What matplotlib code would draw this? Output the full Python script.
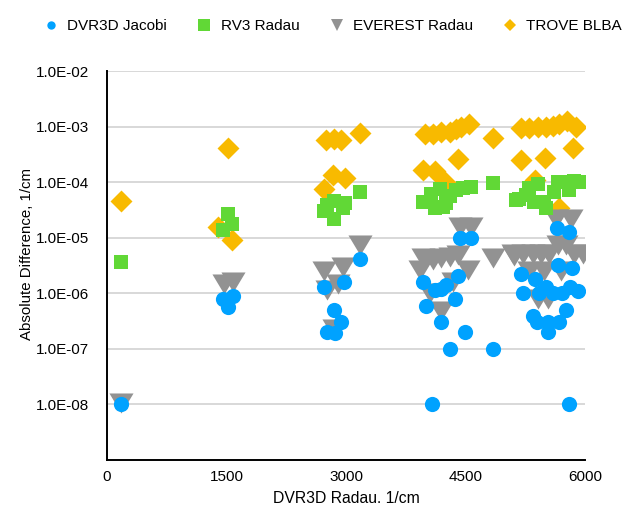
import matplotlib
matplotlib.use('Agg')
import matplotlib.pyplot as plt
from matplotlib.lines import Line2D
from matplotlib.ticker import FixedLocator, FuncFormatter

plt.rcParams['font.family'] = ['Liberation Sans', 'DejaVu Sans']

# DVR3D Jacobi (blue circles)
dvr_x = [175, 1457, 1574, 1512,
         2722, 2973, 3178, 2847, 2939, 2764, 2856,
         4423, 4568, 3963, 4109, 4193, 4255, 4400, 4371, 3996, 4184, 4485, 4297, 4847, 4074,
         5641, 5799, 5194, 5374, 5653, 5834, 5215, 5415, 5507, 5590, 5711, 5812, 5903,
         5340, 5390, 5528, 5665, 5528, 5757, 5799]
dvr_y = [1e-8, 8e-7, 9e-7, 5.7e-7,
         1.3e-6, 1.6e-6, 4.2e-6, 5e-7, 3e-7, 2e-7, 1.9e-7,
         9.8e-6, 1e-5, 1.6e-6, 1.15e-6, 1.2e-6, 1.4e-6, 2.1e-6, 8e-7, 6e-7, 3e-7, 2e-7, 1e-7, 1e-7, 1e-8,
         1.5e-5, 1.3e-5, 2.2e-6, 1.8e-6, 3.3e-6, 2.9e-6, 1e-6, 1e-6, 1.3e-6, 1e-6, 1e-6, 1.3e-6, 1.1e-6,
         4e-7, 3e-7, 3e-7, 3e-7, 2e-7, 5e-7, 1e-8]

# RV3 Radau (green squares)
rv3_x = [175, 1512, 1562, 1457,
         3178, 2847, 2981, 2764, 2722, 2847, 2960,
         4840, 4568, 4464, 4381, 4171, 4067, 3963, 4255, 4109, 4213, 4297,
         5174, 5298, 5402, 5361, 5486, 5507, 5611, 5653, 5757, 5861, 5924, 5799, 5257, 5132]
rv3_y = [3.7e-6, 2.7e-5, 1.8e-5, 1.4e-5,
         6.6e-5, 4.6e-5, 4.2e-5, 3.9e-5, 3e-5, 2.2e-5, 3.5e-5,
         9.7e-5, 8.3e-5, 7.8e-5, 7.2e-5, 7.5e-5, 6.3e-5, 4.5e-5, 4.2e-5, 3.4e-5, 3.6e-5, 5.8e-5,
         5.1e-5, 7.8e-5, 9.5e-5, 4.5e-5, 4.5e-5, 3.5e-5, 6.8e-5, 1.0e-4, 1.0e-4, 1.05e-4, 1.0e-4, 7.2e-5, 5.9e-5, 4.9e-5]

# EVEREST Radau (grey triangles)
ev_x = [175, 1470, 1574,
        3178, 2960, 2722, 2764, 2897, 2847,
        4423, 4568, 4840, 3963, 4089, 4193, 4298, 4400, 4526, 4047, 4193, 4339, 3922,
        5632, 5820, 5090, 5215, 5340, 5444, 5548, 5653, 5757, 5861, 5966, 5402, 5527, 5300, 5480, 5700, 5111]
ev_y = [1.07e-8, 1.5e-6, 1.6e-6,
        7.4e-6, 3e-6, 2.5e-6, 1.15e-6, 1.45e-6, 2.3e-7,
        1.6e-5, 1.6e-5, 4.3e-6, 4.3e-6, 4e-6, 4.3e-6, 4.6e-6, 4.9e-6, 2.6e-6, 1e-6, 4.9e-7, 1.6e-6, 2.6e-6,
        2.2e-5, 2.2e-5, 5.2e-6, 5.2e-6, 5.2e-6, 5.2e-6, 5.2e-6, 7.4e-6, 7.4e-6, 5.2e-6, 5.2e-6, 8e-7, 8e-7, 2.5e-6, 2.5e-6, 2.5e-6, 4.8e-6]

# TROVE BLBA (orange diamonds)
trove_x = [175, 1512, 1390, 1570,
           2750, 2846, 2939, 3178, 2835, 2981, 2722,
           3985, 4089, 4193, 4298, 4381, 4443, 4547, 4840, 4400, 3963, 4109, 4234,
           5194, 5298, 5402, 5507, 5590, 5673, 5777, 5881, 5194, 5499, 5841, 5363, 5673]
trove_y = [4.6e-5, 4.2e-4, 1.6e-5, 9e-6,
           5.9e-4, 6e-4, 5.9e-4, 7.9e-4, 1.38e-4, 1.2e-4, 7.6e-5,
           7.5e-4, 7.5e-4, 8e-4, 8e-4, 9e-4, 1.0e-3, 1.15e-3, 6.3e-4, 2.6e-4, 1.65e-4, 1.58e-4, 1.0e-4,
           9.5e-4, 9.5e-4, 1e-3, 1e-3, 1.05e-3, 1.15e-3, 1.3e-3, 1.0e-3, 2.5e-4, 2.8e-4, 4.1e-4, 1.1e-4, 3.5e-5]

blue = '#00A2FF'
green = '#61D836'
grey = '#929292'
orange = '#F8BA00'
tri = [(-1.2, 1), (1.2, 1), (0, -1)]

fig = plt.figure(figsize=(6.3, 5.08), dpi=100)
ax = fig.add_axes([0.170, 0.0945, 0.759, 0.765])

ax.scatter(trove_x, trove_y, marker='D', s=125, color=orange, linewidths=0, zorder=2)
ax.scatter(ev_x, ev_y, marker=tri, s=300, color=grey, linewidths=0, zorder=3)
ax.scatter(rv3_x, rv3_y, marker='s', s=112, color=green, linewidths=0, zorder=4)
ax.scatter(dvr_x, dvr_y, marker='o', s=120, color=blue, linewidths=0, zorder=5)

ax.set_yscale('log')
ax.set_xlim(0, 6000)
ax.set_ylim(1e-9, 1e-2)
ax.set_xticks([0, 1500, 3000, 4500, 6000])
ax.yaxis.set_major_locator(FixedLocator([1e-8, 1e-7, 1e-6, 1e-5, 1e-4, 1e-3, 1e-2]))
ax.yaxis.set_minor_locator(FixedLocator([]))
ax.yaxis.set_major_formatter(FuncFormatter(lambda v, p: '%.1E' % v))
ax.tick_params(axis='y', length=0, pad=13, labelsize=11)
ax.tick_params(axis='x', length=0, pad=7, labelsize=11)
ax.grid(axis='y', color='#d6d6d6', linewidth=1.3, zorder=0)
ax.set_axisbelow(True)

for s in ['top', 'right']:
    ax.spines[s].set_visible(False)
for s in ['left', 'bottom']:
    ax.spines[s].set_linewidth(1.4)
    ax.spines[s].set_color('black')

ax.set_xlabel('DVR3D Radau. 1/cm', fontsize=11.3, labelpad=5)
ax.set_ylabel('Absolute Difference, 1/cm', fontsize=10.8)
ax.yaxis.set_label_coords(-0.152, 0.53)

handles = [
    Line2D([], [], linestyle='none', marker='o', markersize=6, color=blue, markeredgewidth=0),
    Line2D([], [], linestyle='none', marker='s', markersize=8.6, color=green, markeredgewidth=0),
    Line2D([], [], linestyle='none', marker='v', markersize=8.6, color=grey, markeredgewidth=0),
    Line2D([], [], linestyle='none', marker='D', markersize=6.6, color=orange, markeredgewidth=0),
]
labels = ['DVR3D Jacobi', 'RV3 Radau', 'EVEREST Radau', 'TROVE BLBA']
fig.legend(handles, labels, loc='center', bbox_to_anchor=(0.527, 0.949), ncol=4,
           frameon=False, fontsize=11, handletextpad=0.45, columnspacing=1.85,
           handlelength=1.2)

fig.savefig('out.png', dpi=100)
